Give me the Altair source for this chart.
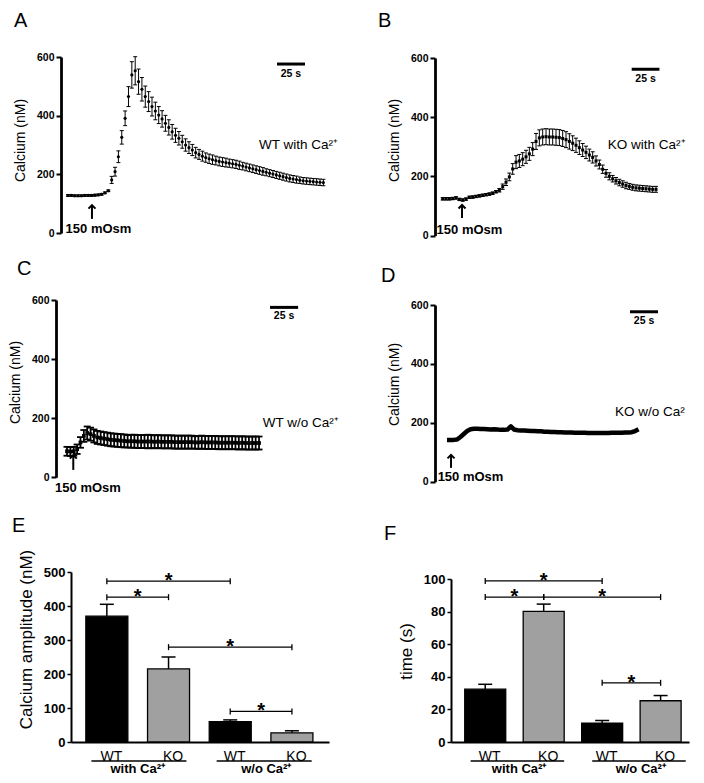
import json
import altair as alt
import pandas as pd

FONT = "Liberation Sans"
BLACK = "#000000"
GREY = "#a0a0a0"
DT = 3          # sampling interval of the traces (s)
SCALE_S = 25    # length of the time scale bar (s)

# ---------------- trace data (Calcium, nM) ----------------
A_mean = [128, 128, 127, 127, 127, 128, 128, 128, 129, 130, 132, 137, 144,
          181, 209, 260, 326, 391, 465, 539, 553, 516, 490, 465, 448, 431, 416, 402, 389,
          374, 360, 345, 333, 323, 311, 300, 291, 283, 274,
          268, 262, 257, 253, 250, 247, 244, 242, 240, 238, 236, 234, 231, 228, 225, 222,
          219, 216, 213, 210, 207, 204, 201, 198, 195, 192, 189, 186, 184, 182, 180, 178,
          177, 176, 175, 174, 173, 172]
A_sem = [3, 3, 3, 3, 3, 3, 3, 3, 3, 3, 3, 3, 3,
         12, 15, 20, 23, 25, 34, 45, 48, 43, 40, 36, 34, 32, 30, 29, 28, 27, 26, 25, 24,
         23, 22, 21, 20, 19, 18,
         17, 17, 16, 16, 16, 15, 15, 15, 15, 14, 14, 14, 14, 13, 13, 13, 13, 13, 13, 13,
         12, 12, 12, 12, 12, 12, 12, 12, 12, 12, 11, 11, 11, 11, 11, 11, 11, 11]

B_mean = [124, 124, 124, 125, 127, 122, 120, 123, 129, 130, 132, 134, 136, 138, 140,
          143, 148, 153, 165, 180, 198, 225, 248, 252, 258, 266, 276, 292, 318, 330, 333,
          334, 333, 333, 332, 331, 328, 324, 318, 312, 305, 297, 289, 281, 272, 264, 252,
          240, 224, 210, 200, 192, 185, 179, 174, 169, 166, 163, 161, 160, 159, 158, 157,
          156, 156]
B_sem = [4, 4, 4, 4, 4, 4, 4, 4, 4, 4, 4, 4, 4, 4, 4, 4, 4,
         6, 9, 11, 13, 18, 22, 22, 22, 22, 22, 22,
         27, 27, 27, 27, 27, 27, 27, 27, 27, 27,
         26, 25, 24, 23, 22, 21, 20, 19, 17, 15, 14, 13, 12,
         11, 11, 11, 11, 11, 10, 10, 10, 10, 10, 10, 10, 10, 10]

C_mean = [88, 87, 88, 95, 118, 140, 150, 146, 140, 135, 133, 131, 129, 127, 126, 125,
          124, 123, 122, 122, 122, 121, 121, 121, 121, 121, 120, 121, 120, 120, 120, 120,
          119, 119, 119, 119, 119, 119, 118, 118, 119, 118, 118, 118, 118, 117, 117, 117,
          117, 117, 117, 116, 117, 116, 116, 116, 116, 116]
C_sem = [15, 15, 15, 16, 18, 20, 22, 22, 22, 22, 22, 22, 22, 22, 22, 22, 22, 22, 21,
         22, 22, 22, 22, 22, 23, 22, 22, 22, 22, 22, 22, 22, 22, 22, 22, 22, 22, 22, 21,
         22, 22, 22, 22, 22, 22, 22, 22, 22, 22, 22, 22, 22, 22, 22, 22, 22, 22, 22]

D_mean = [142, 142, 142, 143, 152, 162, 172, 178, 180, 180, 179, 179, 178, 177, 178,
          177, 176, 176, 177, 188, 177, 175, 174, 174, 173, 172, 172, 171, 171, 170, 170,
          169, 169, 168, 168, 167, 167, 167, 166, 166, 166, 166, 165, 165, 165, 165, 165,
          165, 165, 166, 166, 166, 166, 167, 167, 168, 172, 178]

trace_ticks = [0, 200, 400, 600]

# ---------------- bar data ----------------
bar_pos = [1, 2, 3, 4]
bar_labels = ["WT", "KO", "WT", "KO"]
E_mean = [370, 215, 60, 27]
E_sem = [35, 35, 5, 6]
F_mean = [32.4, 80.1, 11.5, 25.3]
F_sem = [3.0, 4.5, 1.7, 3.2]
E_ticks = [0, 100, 200, 300, 400, 500]
F_ticks = [0, 20, 40, 60, 80, 100]
E_br_from = [1, 1, 2, 3]
E_br_to = [3, 2, 4, 4]
E_br_y = [473, 426, 279, 90]
F_br_from = [1, 1, 2, 3]
F_br_to = [3, 2, 4, 4]
F_br_y = [98.8, 88.9, 88.9, 36.3]
group_names = ["with Ca²⁺", "w/o Ca²⁺"]

# ---------------- layout / annotation settings ----------------
LET_SIZE = 20
TRACES = [
    dict(letter="A", mean=A_mean, sem=A_sem, marker="circle", msize=10, cap=16, ew=1,
         w=290, h=178, xd=[-6.25, 252.68], yr=[176, 0], yoff=0, titleY=83,
         label="WT with Ca²⁺", lab=(170.5, 300), arrow=(21.4, 48, 95), mosm=(27.2, 14),
         sbar=(186.6, 576, 542), let=(-47, -30)),
    dict(letter="B", mean=B_mean, sem=B_sem, marker="square", msize=9, cap=16, ew=1,
         w=254, h=178, xd=[-6.93, 221.7], yr=[178.5, 1], yoff=0, titleY=83,
         label="KO with Ca²⁺", lab=(148.6, 306), arrow=(17.4, 59, 103), mosm=(24.1, 19),
         sbar=(170.1, 562, 529), let=(-57, -30)),
    dict(letter="C", mean=C_mean, sem=C_sem, marker="square", msize=14, cap=49, ew=1.8,
         w=290, h=182, xd=[-5.34, 252.9], yr=[177.3, 0], yoff=5, titleY=82,
         label="WT w/o Ca²⁺", lab=(174.4, 185), arrow=(5.6, 25, 75), mosm=(18.7, -36),
         sbar=(180.8, 575, 546), let=(-44, -25)),
    dict(letter="D", mean=D_mean, sem=None, marker=None, msize=0, cap=0, ew=0,
         w=254, h=182, xd=[-10.71, 216.07], yr=[181.7, 5], yoff=0, titleY=84,
         label="KO w/o Ca²", lab=(150, 238), arrow=(3.6, 47, 91), mosm=(21, 17),
         sbar=(163.4, 577, 546), let=(-54, -18)),
]

BARS = [
    dict(letter="E", mean=E_mean, sem=E_sem, ticks=E_ticks, yd=[0, 500], yr=[195, 25],
         xd=[0.5, 4.52], xr=[10, 268], yoff=-10, w=290, h=195, bsize=42,
         title="Calcium amplitude (nM)", titleY=92,
         bf=E_br_from, bt=E_br_to, by=E_br_y,
         glines=[(0.75, 2.29), (2.78, 4.32)], gc=[1.5, 3.585], let=(-49, -15)),
    dict(letter="F", mean=F_mean, sem=F_sem, ticks=F_ticks, yd=[0, 100], yr=[195, 32],
         xd=[0.5, 4.4], xr=[16, 254], yoff=-16, w=254, h=195, bsize=41,
         title="time (s)", titleY=104,
         bf=F_br_from, bt=F_br_to, by=F_br_y,
         glines=[(0.75, 2.35), (2.83, 4.43)], gc=[1.58, 3.66], let=(-51, -7)),
]


def letter_layer(p):
    return alt.Chart(pd.DataFrame({"s": [p["letter"]]})).mark_text(
        fontSize=LET_SIZE, align="left", baseline="alphabetic", color=BLACK
    ).encode(text="s:N", x=alt.value(p["let"][0]), y=alt.value(p["let"][1]))


def trace_panel(p):
    n = len(p["mean"])
    t = [i * DT for i in range(n)]
    xs = alt.Scale(domain=p["xd"], nice=False, zero=False)
    ys = alt.Scale(domain=[0, 600], range=p["yr"], nice=False, zero=False)
    yax = alt.Axis(values=trace_ticks, title="Calcium (nM)", titleFontSize=14,
                   titleFontWeight="normal", titleColor=BLACK, titlePadding=9,
                   titleY=p["titleY"],
                   labelFontSize=10.5, labelFontWeight="bold", labelColor=BLACK,
                   labelPadding=2, tickSize=5, tickWidth=2, tickColor=BLACK,
                   domainWidth=2.8, domainColor=BLACK, grid=False, offset=p["yoff"],
                   minExtent=25, maxExtent=25)

    def X(f):
        return alt.X(f"{f}:Q", scale=xs, axis=None)

    def Y(f):
        return alt.Y(f"{f}:Q", scale=ys, axis=yax)

    df = pd.DataFrame({"t": t, "m": p["mean"]})
    layers = []
    if p["sem"] is not None:
        df["lo"] = [m - s for m, s in zip(p["mean"], p["sem"])]
        df["hi"] = [m + s for m, s in zip(p["mean"], p["sem"])]
        layers.append(alt.Chart(df).mark_rule(color=BLACK, strokeWidth=p["ew"]).encode(
            x=X("t"), y=Y("lo"), y2="hi:Q"))
        caps = pd.DataFrame({"t": t + t, "m": list(df["lo"]) + list(df["hi"])})
        layers.append(alt.Chart(caps).mark_point(
            shape="M-1,0L1,0", size=p["cap"], strokeWidth=p["ew"], color=BLACK,
            filled=False, opacity=1
        ).encode(x=X("t"), y=Y("m")))
        layers.append(alt.Chart(df).mark_point(
            shape=p["marker"], size=p["msize"], filled=True, color=BLACK, opacity=1
        ).encode(x=X("t"), y=Y("m")))
    else:
        layers.append(alt.Chart(df).mark_line(
            color=BLACK, strokeWidth=4.5, strokeJoin="round").encode(x=X("t"), y=Y("m")))

    t0, ysb, ytx = p["sbar"]
    sb = pd.DataFrame({"t0": [t0], "t1": [t0 + SCALE_S], "tc": [t0 + SCALE_S / 2],
                       "m": [ysb], "mt": [ytx], "txt": [f"{SCALE_S} s"]})
    layers.append(alt.Chart(sb).mark_rule(color=BLACK, strokeWidth=3).encode(
        x=X("t0"), x2="t1:Q", y=Y("m")))
    layers.append(alt.Chart(sb).mark_text(
        fontSize=10.5, fontWeight="bold", baseline="middle", color=BLACK
    ).encode(x=X("tc"), y=Y("mt"), text="txt:N"))

    ta, yb, yt = p["arrow"]
    ar = pd.DataFrame({"t": [ta], "m": [yb], "m2": [yt]})
    layers.append(alt.Chart(ar).mark_rule(color=BLACK, strokeWidth=2).encode(
        x=X("t"), y=Y("m"), y2="m2:Q"))
    layers.append(alt.Chart(ar).mark_point(
        shape="M-1,1L0,0L1,1", size=49, strokeWidth=2, filled=False, color=BLACK, opacity=1
    ).encode(x=X("t"), y=Y("m2")))

    mo = pd.DataFrame({"t": [p["mosm"][0]], "m": [p["mosm"][1]], "txt": ["150 mOsm"]})
    layers.append(alt.Chart(mo).mark_text(
        fontSize=13, fontWeight="bold", baseline="middle", color=BLACK
    ).encode(x=X("t"), y=Y("m"), text="txt:N"))

    lb = pd.DataFrame({"t": [p["lab"][0]], "m": [p["lab"][1]], "txt": [p["label"]]})
    layers.append(alt.Chart(lb).mark_text(
        fontSize=13.5, align="left", baseline="middle", color=BLACK
    ).encode(x=X("t"), y=Y("m"), text="txt:N"))

    layers.append(letter_layer(p))
    return alt.layer(*layers).properties(width=p["w"], height=p["h"])


def bar_panel(p):
    xs = alt.Scale(domain=p["xd"], range=p["xr"], nice=False, zero=False)
    ys = alt.Scale(domain=p["yd"], range=p["yr"], nice=False, zero=False)
    xax = alt.Axis(values=bar_pos, labelExpr=f"{json.dumps(bar_labels)}[datum.value - 1]",
                   title=None, ticks=False, tickSize=0, labelFontSize=14,
                   labelColor=BLACK, labelPadding=7, labelOffset=4, labelFlush=False,
                   domainWidth=2, domainColor=BLACK, grid=False)
    yax = alt.Axis(values=p["ticks"], title=p["title"], titleFontSize=17,
                   titleFontWeight="normal", titleColor=BLACK, titlePadding=9,
                   titleY=p["titleY"],
                   labelFontSize=13, labelFontWeight="bold", labelColor=BLACK,
                   labelPadding=2, tickSize=4, tickWidth=1.5, tickColor=BLACK,
                   domainWidth=2, domainColor=BLACK, grid=False, offset=p["yoff"],
                   minExtent=27, maxExtent=27)

    def X(f):
        return alt.X(f"{f}:Q", scale=xs, axis=xax)

    def Y(f):
        return alt.Y(f"{f}:Q", scale=ys, axis=yax)

    df = pd.DataFrame({"x": bar_pos, "m": p["mean"], "g": bar_labels,
                       "hi": [m + s for m, s in zip(p["mean"], p["sem"])]})
    layers = [
        alt.Chart(df).mark_bar(orient="vertical", size=p["bsize"], stroke=BLACK,
                               strokeWidth=1.3).encode(
            x=X("x"), y=alt.Y("m:Q", scale=ys, axis=yax, stack=None),
            color=alt.Color("g:N", scale=alt.Scale(domain=["WT", "KO"], range=[BLACK, GREY]),
                            legend=None)),
        alt.Chart(df).mark_rule(color=BLACK, strokeWidth=1.5).encode(
            x=X("x"), y=Y("m"), y2="hi:Q"),
        alt.Chart(df).mark_point(shape="M-1,0L1,0", size=196, strokeWidth=1.5,
                                 filled=False, color=BLACK, opacity=1).encode(
            x=X("x"), y=Y("hi")),
    ]
    br = pd.DataFrame({"x0": p["bf"], "x1": p["bt"], "y": p["by"],
                       "mid": [(a + b) / 2 for a, b in zip(p["bf"], p["bt"])],
                       "s": ["*"] * len(p["by"])})
    ends = pd.DataFrame({"x": p["bf"] + p["bt"], "y": p["by"] + p["by"]})
    layers += [
        alt.Chart(br).mark_rule(color=BLACK, strokeWidth=1.3).encode(
            x=X("x0"), x2="x1:Q", y=Y("y")),
        alt.Chart(ends).mark_point(shape="M0,-1L0,1", size=36, strokeWidth=1.3,
                                   filled=False, color=BLACK, opacity=1).encode(
            x=X("x"), y=Y("y")),
        alt.Chart(br).mark_text(fontSize=20, fontWeight="bold", baseline="alphabetic",
                                dy=6, color=BLACK).encode(
            x=X("mid"), y=Y("y"), text="s:N"),
    ]
    gr = pd.DataFrame({"g0": [a for a, _ in p["glines"]], "g1": [b for _, b in p["glines"]],
                       "gc": p["gc"], "name": group_names})
    layers += [
        alt.Chart(gr).mark_rule(color=BLACK, strokeWidth=1.5).encode(
            x=X("g0"), x2="g1:Q", y=alt.value(p["h"] + 19)),
        alt.Chart(gr).mark_text(fontSize=13, fontWeight="bold", baseline="middle",
                                color=BLACK).encode(
            x=X("gc"), y=alt.value(p["h"] + 27), text="name:N"),
        letter_layer(p),
    ]
    return alt.layer(*layers).properties(width=p["w"], height=p["h"])


panels = [trace_panel(p) for p in TRACES] + [bar_panel(p) for p in BARS]

chart = alt.concat(
    *panels, columns=2, spacing={"row": 65, "column": 84}, bounds="flush", align="each"
).properties(
    padding={"left": 0, "top": 3, "right": 4, "bottom": 0}
).configure(font=FONT).configure_view(stroke=None)

chart.save("out.html", embed_options={"renderer": "svg", "actions": False})
